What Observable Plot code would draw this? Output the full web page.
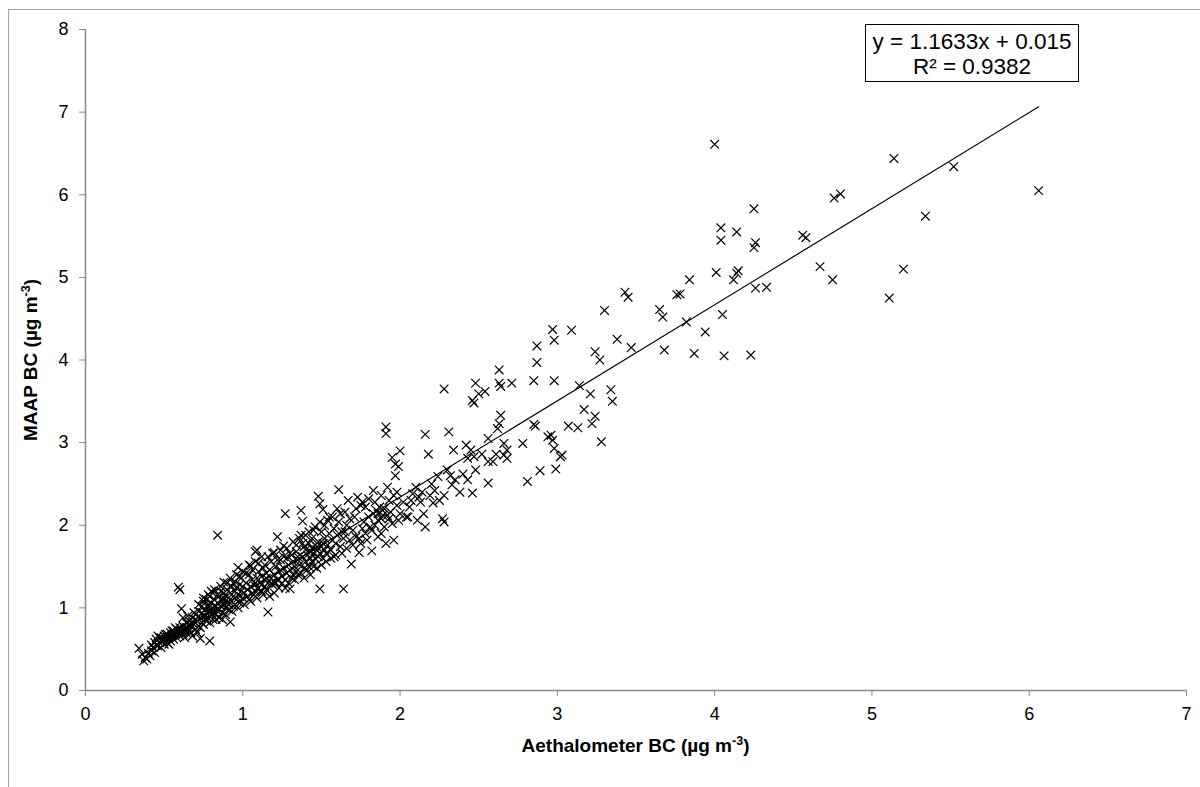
<!DOCTYPE html>
<html>
<head>
<meta charset="utf-8">
<script src="https://cdn.jsdelivr.net/npm/d3@7"></script>
<script src="https://cdn.jsdelivr.net/npm/@observablehq/plot@0.6"></script>
<style>
  body { margin: 0; background: #fff; font-family: "Liberation Sans", Arial, sans-serif; }
  #wrap { position: relative; width: 1200px; height: 787px; overflow: hidden; background: #fff; }
  #border { position: absolute; left: 8px; top: 9px; width: 1300px; height: 900px; border: 1.5px solid #a6a6a6; box-sizing: border-box; }
  #chart { position: absolute; left: 0; top: 0; }
  #eq { position: absolute; left: 865px; top: 24px; width: 214px; height: 58px; box-sizing: border-box; border: 1px solid #000; background: #fff;
        padding-top: 4px; text-align: center; font-size: 22.5px; line-height: 25px; color: #000; white-space: nowrap; }
</style>
</head>
<body>
<div id="wrap">
  <div id="border"></div>
  <div id="chart"></div>
  <div id="eq"><div id="eq1"></div><div id="eq2"></div></div>
</div>
<script>
// Each pair: [Aethalometer BC, MAAP BC] (µg m-3)
const rangeA = [
  [0.34,0.51],[0.36,0.44],[0.37,0.36],[0.38,0.40],[0.39,0.38],[0.40,0.45],[0.41,0.42],[0.42,0.48],[0.43,0.52],[0.44,0.46],
  [0.45,0.55],[0.45,0.62],[0.46,0.66],[0.47,0.58],[0.47,0.64],[0.48,0.52],[0.49,0.60],[0.50,0.56],[0.50,0.66],[0.51,0.62],
  [0.52,0.58],[0.52,0.68],[0.53,0.64],[0.54,0.60],[0.54,0.70],[0.55,0.66],[0.56,0.62],[0.56,0.72],[0.57,0.68],[0.58,0.64],
  [0.58,0.74],[0.59,0.70],[0.60,0.66],[0.60,0.76],[0.59,1.25],[0.60,1.22],[0.61,0.99],[0.55,0.72],[0.57,0.76],[0.53,0.56],
  [0.48,0.64],[0.44,0.58],[0.42,0.55],[0.51,0.68],[0.46,0.54]
];
const rangeB = [
  [0.61,0.72],[0.62,0.68],[0.62,0.78],[0.63,0.74],[0.64,0.70],[0.64,0.82],[0.65,0.76],[0.66,0.72],[0.66,0.84],[0.67,0.78],
  [0.68,0.66],[0.68,0.88],[0.69,0.80],[0.70,0.74],[0.70,0.92],[0.71,0.84],[0.72,0.78],[0.72,0.96],[0.73,0.63],[0.73,0.88],
  [0.74,0.82],[0.74,1.02],[0.75,0.90],[0.75,1.08],[0.76,0.86],[0.76,0.98],[0.77,0.94],[0.77,1.10],[0.78,0.88],[0.78,1.04],
  [0.79,0.60],[0.79,0.96],[0.79,1.14],[0.80,0.92],[0.80,1.06],[0.81,1.00],[0.81,1.18],[0.82,0.94],[0.82,1.10],[0.83,1.02],
  [0.83,0.86],[0.84,1.88],[0.84,1.06],[0.85,0.98],[0.85,1.14],[0.86,1.02],[0.86,1.20],[0.87,0.94],[0.87,1.08],[0.88,1.12],
  [0.88,1.31],[0.89,1.00],[0.89,1.16],[0.90,1.06],[0.90,1.22],[0.91,0.98],[0.91,1.12],[0.92,0.83],[0.92,1.18],[0.93,1.08],
  [0.93,1.26],[0.94,1.02],[0.94,1.14],[0.95,1.20],[0.95,1.32],[0.96,1.10],[0.96,1.24],[0.97,1.49],[0.97,1.16],[0.98,1.06],
  [0.98,1.28],[0.99,1.20],[0.99,1.36],[1.00,1.12],[1.00,1.26],[0.76,0.90],[0.80,0.98],[0.84,0.96],[0.78,1.00],[0.82,1.02],
  [0.70,0.86],[0.66,0.80],[0.64,0.76],[0.86,1.10],[0.88,1.04],[0.74,0.94],[0.72,0.90],[0.68,0.82]
];
const rangeC = [
  [1.01,1.18],[1.02,1.30],[1.03,1.22],[1.04,1.10],[1.04,1.40],[1.05,1.51],[1.05,1.26],[1.06,1.18],[1.06,1.34],[1.07,1.28],
  [1.08,1.20],[1.08,1.68],[1.09,1.36],[1.09,1.70],[1.10,1.24],[1.10,1.44],[1.11,1.30],[1.12,1.38],[1.12,1.20],[1.13,1.48],
  [1.14,1.34],[1.14,1.26],[1.15,1.42],[1.16,0.95],[1.16,1.30],[1.17,1.46],[1.18,1.36],[1.18,1.56],[1.19,1.28],[1.20,1.40],
  [1.20,1.67],[1.21,1.50],[1.22,1.86],[1.22,1.34],[1.23,1.44],[1.24,1.58],[1.25,1.38],[1.26,1.75],[1.26,1.48],[1.27,2.14],
  [1.27,1.24],[1.28,1.42],[1.28,1.60],[1.29,1.52],[1.30,1.23],[1.30,1.46],[1.31,1.64],[1.32,1.40],[1.32,1.56],[1.33,1.50],
  [1.34,1.68],[1.34,1.44],[1.35,1.58],[1.36,1.52],[1.37,1.88],[1.37,2.18],[1.38,2.05],[1.38,1.62],[1.39,1.74],[1.39,1.48],
  [1.40,1.56],[1.40,1.70],[1.41,1.64],[1.42,1.50],[1.42,1.78],[1.43,1.60],[1.44,1.72],[1.44,1.56],[1.45,1.94],[1.45,1.66],
  [1.46,1.76],[1.46,1.60],[1.47,1.70],[1.48,1.80],[1.48,2.35],[1.49,1.23],[1.49,2.26],[1.49,1.66],[1.50,1.74],[1.50,1.92],
  [1.12,1.28],[1.15,1.36],[1.24,1.46],[1.20,1.32],[1.08,1.30],[1.35,1.62],[1.43,1.68],[1.47,1.74],[1.52,1.70],[1.51,1.78]
];
const rangeD = [
  [1.51,2.19],[1.51,1.60],[1.52,1.84],[1.53,1.66],[1.54,1.76],[1.55,1.90],[1.55,2.10],[1.56,1.70],[1.57,1.82],[1.58,1.96],
  [1.58,1.62],[1.59,1.78],[1.60,2.20],[1.60,1.88],[1.61,2.43],[1.62,2.14],[1.62,1.74],[1.63,1.92],[1.64,1.23],[1.64,1.84],
  [1.65,1.92],[1.66,2.00],[1.67,2.30],[1.68,1.82],[1.69,1.53],[1.70,1.94],[1.71,2.10],[1.72,1.86],[1.73,2.34],[1.74,1.67],
  [1.75,1.78],[1.75,2.24],[1.76,1.96],[1.77,2.04],[1.78,2.22],[1.79,1.82],[1.80,2.10],[1.81,1.98],[1.82,1.69],[1.83,2.14],
  [1.83,2.42],[1.84,2.00],[1.85,2.18],[1.86,2.06],[1.87,2.22],[1.88,1.90],[1.89,2.12],[1.90,2.20],[1.91,3.19],[1.91,3.11],
  [1.91,1.78],[1.92,2.46],[1.93,2.08],[1.94,2.16],[1.95,2.82],[1.96,1.82],[1.96,2.36],[1.97,2.60],[1.97,2.74],[1.98,2.24],
  [1.99,2.71],[2.00,2.90],[2.00,2.14],[1.86,2.14],[1.88,2.08],[1.92,2.12]
];
const bandSpread = [
  [0.62,0.88],[0.63,0.64],[0.65,0.90],[0.67,0.70],[0.69,0.94],[0.71,0.70],[0.72,1.04],[0.73,0.76],[0.75,0.80],[0.75,1.12],
  [0.77,0.84],[0.78,1.16],[0.79,0.82],[0.80,1.20],[0.81,0.86],[0.82,1.22],[0.83,0.92],[0.84,1.16],[0.85,0.88],[0.86,1.26],
  [0.87,0.86],[0.88,1.18],[0.89,0.92],[0.90,1.30],[0.91,1.04],[0.92,1.36],[0.93,0.96],[0.94,1.30],[0.95,1.04],[0.96,1.40],
  [0.97,1.00],[0.98,1.38],[0.99,1.08],[1.00,1.44],[1.01,1.04],[1.02,1.42],[1.03,1.14],[1.04,1.52],[1.05,1.08],[1.06,1.46],
  [1.07,1.16],[1.08,1.56],[1.09,1.12],[1.10,1.54],[1.11,1.20],[1.12,1.62],[1.13,1.16],[1.14,1.52],[1.15,1.22],[1.16,1.62],
  [1.17,1.14],[1.18,1.30],[1.19,1.66],[1.20,1.18],[1.21,1.30],[1.22,1.58],[1.23,1.24],[1.24,1.70],[1.25,1.30],[1.26,1.62],
  [1.27,1.34],[1.28,1.72],[1.29,1.30],[1.30,1.66],[1.31,1.36],[1.32,1.80],[1.33,1.34],[1.34,1.76],[1.35,1.40],[1.36,1.84],
  [1.37,1.42],[1.38,1.78],[1.39,1.36],[1.40,1.88],[1.41,1.46],[1.42,1.92],[1.43,1.40],[1.44,1.84],[1.45,1.50],[1.46,1.98],
  [1.47,1.48],[1.48,1.62],[1.49,2.04],[1.50,1.52],[1.52,2.00],[1.53,1.56],[1.54,2.06],[1.56,1.60],[1.57,2.10],[1.59,1.64],
  [1.61,2.04],[1.63,1.66],[1.65,2.16],[1.66,1.72],[1.68,2.08],[1.70,1.76],[1.72,2.20],[1.74,1.84],[1.76,2.28],[1.78,1.90],
  [1.80,2.32],[1.82,1.94],[1.84,2.28],[1.86,1.86],[1.88,2.36],[1.90,1.98],[1.93,2.30],[1.95,2.02],[1.98,2.40],[1.99,2.06]
];
const rangeE = [
  [2.02,2.28],[2.04,2.10],[2.05,2.10],[2.07,2.30],[2.08,2.38],[2.10,2.46],[2.11,2.06],[2.12,2.34],[2.14,2.40],[2.15,2.14],
  [2.16,3.10],[2.16,1.98],[2.18,2.86],[2.19,2.36],[2.21,2.27],[2.22,2.42],[2.24,2.59],[2.27,2.08],[2.28,2.04],[2.28,3.65],
  [2.28,2.36],[2.30,2.67],[2.31,3.13],[2.33,2.49],[2.34,2.91],[2.35,2.55],[2.38,2.40],[2.42,2.97],[2.43,2.81],[2.43,2.55],
  [2.45,2.91],[2.46,2.39],[2.46,3.51],[2.47,3.48],[2.48,3.72],[2.47,2.83],[2.48,2.67],[2.50,3.59],[2.54,3.62],[2.56,2.51],
  [2.56,3.05],[2.56,2.77],[2.59,2.77],[2.61,2.86],[2.62,3.17],[2.63,3.23],[2.63,3.72],[2.64,3.68],[2.64,3.33],[2.63,3.88],
  [2.66,2.99],[2.68,2.91],[2.66,2.85],[2.68,2.81],[2.71,3.72],[2.78,2.99],[2.81,2.53],[2.85,3.75],[2.85,3.22],[2.86,3.20],
  [2.87,3.97],[2.87,4.17],[2.89,2.66],[2.94,3.07],[2.96,3.09],[2.97,3.03],[2.98,2.93],[2.98,4.24],[2.98,3.75],[2.99,2.68],
  [2.97,4.37],[3.02,2.83],[3.03,2.85],[2.06,2.22],[2.13,2.28],[2.20,2.50],[2.25,2.30],[2.32,2.60],[2.40,2.62],[2.52,2.86]
];
const rangeF = [
  [3.07,3.20],[3.09,4.36],[3.13,3.18],[3.14,3.69],[3.17,3.40],[3.21,3.59],[3.22,3.23],[3.24,3.32],[3.24,4.10],[3.27,4.00],
  [3.28,3.01],[3.30,4.60],[3.34,3.64],[3.35,3.50],[3.38,4.25],[3.43,4.82],[3.45,4.76],[3.47,4.15],[3.65,4.61],[3.67,4.52],
  [3.68,4.12],[3.76,4.79],[3.78,4.80],[3.82,4.46],[3.84,4.97],[3.87,4.08],[3.94,4.34],[4.00,6.61],[4.01,5.06],[4.04,5.45],
  [4.04,5.60],[4.05,4.55],[4.06,4.05],[4.12,4.97],[4.14,5.05],[4.15,5.08],[4.14,5.55],[4.23,4.06],[4.25,5.83],[4.25,5.36],
  [4.26,5.42],[4.26,4.87],[4.33,4.88],[4.56,5.51],[4.58,5.48],[4.67,5.13],[4.75,4.97],[4.76,5.96],[4.80,6.01],[5.11,4.75],
  [5.14,6.44],[5.20,5.10],[5.34,5.74],[5.52,6.34],[6.06,6.05]
];

// Trendline (as printed on chart)
const slope = 1.1633;
const intercept = 0.015;
const rSquared = 0.9382;

// Axes
const xTicks = [0, 1, 2, 3, 4, 5, 6, 7];
const yTicks = [0, 1, 2, 3, 4, 5, 6, 7, 8];
const xTitle = "Aethalometer BC (µg m";
const yTitle = "MAAP BC (µg m";
const unitSup = "-3";

const points = [...rangeA, ...rangeB, ...bandSpread, ...rangeC, ...rangeD, ...rangeE, ...rangeF]
  .map(([a, m]) => ({aeth: a, maap: m}));
const [xMin, xMax] = d3.extent(points, d => d.aeth);
const trend = [xMin, xMax].map(x => ({aeth: x, maap: slope * x + intercept}));

const axisGray = "#898989";

const plot = Plot.plot({
  width: 1200,
  height: 787,
  marginLeft: 85,
  marginRight: 14,
  marginTop: 29,
  marginBottom: 97,
  style: {fontFamily: "'Liberation Sans', Arial, sans-serif", fontSize: "18px", background: "transparent", color: "#000", overflow: "visible"},
  x: {domain: [0, 7]},
  y: {domain: [0, 8]},
  marks: [
    Plot.ruleX([0], {stroke: axisGray, strokeWidth: 1.5}),
    Plot.ruleY([0], {stroke: axisGray, strokeWidth: 1.5}),
    Plot.axisX({ticks: xTicks, tickSize: 6, tickPadding: 11, stroke: axisGray, fill: "#000", label: null, tickFormat: d => String(d)}),
    Plot.axisY({ticks: yTicks, tickSize: 6, tickPadding: 11, stroke: axisGray, fill: "#000", label: null, tickFormat: d => String(d)}),
    Plot.dot(points, {x: "aeth", y: "maap", symbol: "times", r: 4, stroke: "#000", strokeWidth: 1.2}),
    Plot.line(trend, {x: "aeth", y: "maap", stroke: "#000", strokeWidth: 1.2})
  ]
});
document.getElementById("chart").appendChild(plot);

const svg = d3.select(plot);
function title(sel, main) {
  sel.style("font-weight", "bold").style("font-size", "19px").style("fill", "#000");
  sel.append("tspan").text(main);
  sel.append("tspan").style("font-size", "12.5px").attr("dy", -7).text(unitSup);
  sel.append("tspan").attr("dy", 7).text(")");
}
title(svg.append("text").attr("x", 635.5).attr("y", 752).attr("text-anchor", "middle"), xTitle);
title(svg.append("text").attr("transform", "translate(37,360) rotate(-90)").attr("text-anchor", "middle"), yTitle);

document.getElementById("eq1").textContent = `y = ${slope}x + ${intercept}`;
document.getElementById("eq2").textContent = `R² = ${rSquared}`;
</script>
</body>
</html>
